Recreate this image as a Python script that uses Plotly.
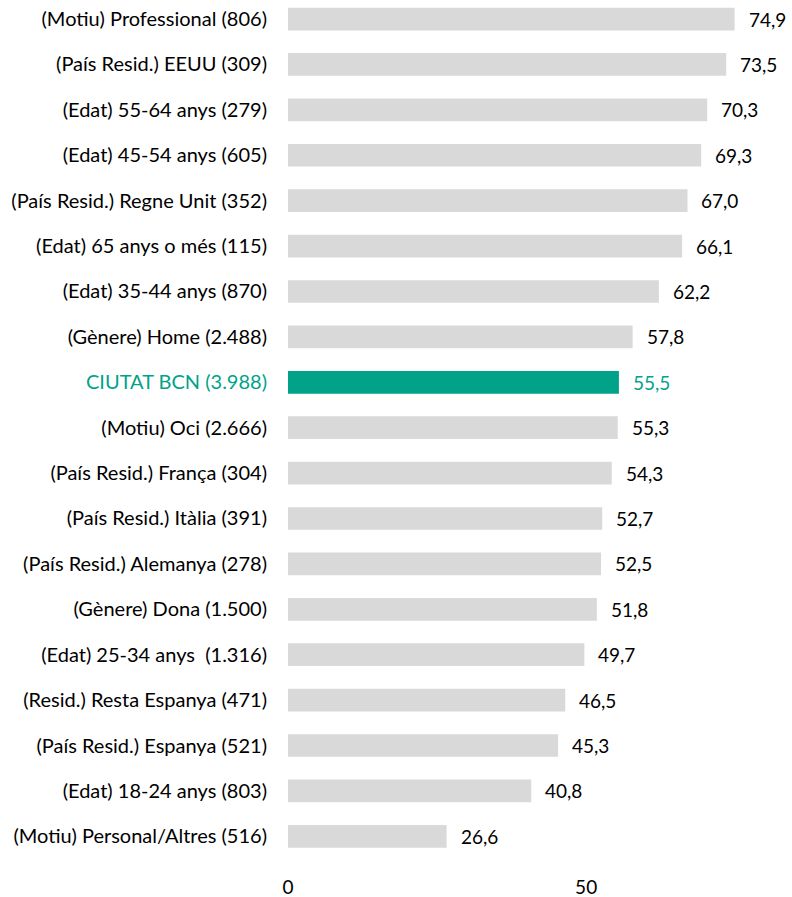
import plotly.graph_objects as go

categories = [
    "(Motiu) Professional (806)",
    "(País Resid.) EEUU (309)",
    "(Edat) 55-64 anys (279)",
    "(Edat) 45-54 anys (605)",
    "(País Resid.) Regne Unit (352)",
    "(Edat) 65 anys o més (115)",
    "(Edat) 35-44 anys (870)",
    "(Gènere) Home (2.488)",
    "CIUTAT BCN (3.988)",
    "(Motiu) Oci (2.666)",
    "(País Resid.) França (304)",
    "(País Resid.) Itàlia (391)",
    "(País Resid.) Alemanya (278)",
    "(Gènere) Dona (1.500)",
    "(Edat) 25-34 anys  (1.316)",
    "(Resid.) Resta Espanya (471)",
    "(País Resid.) Espanya (521)",
    "(Edat) 18-24 anys (803)",
    "(Motiu) Personal/Altres (516)",
]
values = [74.9, 73.5, 70.3, 69.3, 67.0, 66.1, 62.2, 57.8, 55.5, 55.3,
          54.3, 52.7, 52.5, 51.8, 49.7, 46.5, 45.3, 40.8, 26.6]
x_tick_values = [0, 50]
x_tick_labels = ["0", "50"]
highlight = "CIUTAT BCN (3.988)"

GREY = "#D9D9D9"
TEAL = "#00A387"
FONT = "Lato"
FS = 19

colors = [TEAL if c == highlight else GREY for c in categories]
ticktext = [
    f'<span style="color:{TEAL}">{c}</span>' if c == highlight else c
    for c in categories
]

fig = go.Figure(go.Bar(
    x=values, y=categories, orientation="h",
    marker=dict(color=colors, line=dict(width=0)),
    hoverinfo="skip",
))

for c, v in zip(categories, values):
    fig.add_annotation(
        x=v, y=c, text=f"{v:.1f}".replace(".", ","),
        showarrow=False, xanchor="left", xshift=12,
        font=dict(family=FONT, size=FS, color=TEAL if c == highlight else "#000000"),
    )

fig.update_layout(
    width=792, height=897,
    margin=dict(l=288, r=27, t=0, b=38),
    plot_bgcolor="white", paper_bgcolor="white",
    bargap=0.5, showlegend=False,
    font=dict(family=FONT, size=FS, color="#000000"),
    xaxis=dict(range=[0, 80], tickvals=x_tick_values, ticktext=x_tick_labels,
               showgrid=False, zeroline=False, showline=False, automargin=False,
               ticklabelstandoff=15, tickfont=dict(size=FS)),
    yaxis=dict(type="category", categoryorder="array", categoryarray=categories,
               range=[18.5, -0.42], tickmode="array", tickvals=categories,
               ticktext=ticktext, showgrid=False, zeroline=False, showline=False,
               automargin=False, ticklabelstandoff=20, tickfont=dict(size=20)),
)

fig.write_html("out.html", config={"displayModeBar": False},
               post_script="document.body.style.margin='0';document.body.style.overflow='hidden';")
